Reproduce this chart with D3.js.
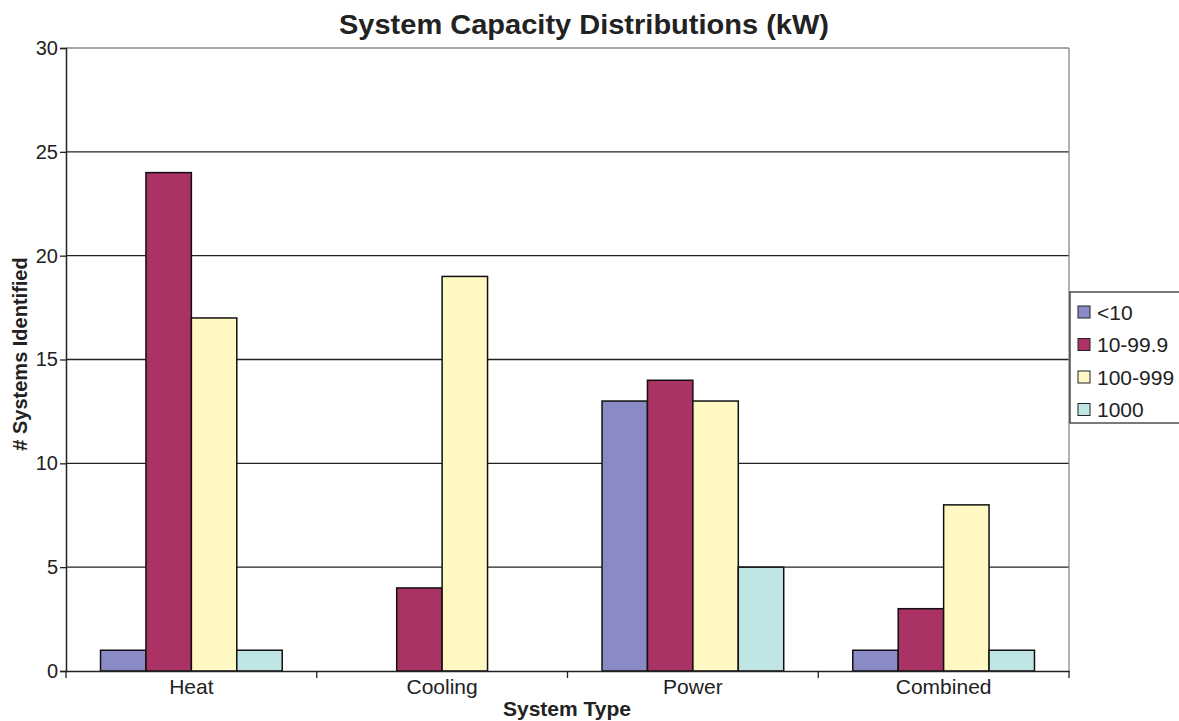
<!DOCTYPE html>
<html>
<head>
<meta charset="utf-8">
<script src="https://cdn.jsdelivr.net/npm/d3@7"></script>
<style>
  body { margin: 0; background: #fff; }
  text { font-family: "Liberation Sans", Arial, sans-serif; fill: #222; }
</style>
</head>
<body>
<div id="viz"></div>
<script>
const categories = ["Heat", "Cooling", "Power", "Combined"];
const series = ["<10", "10-99.9", "100-999", "1000"];
const values = [
    [1, 24, 17, 1],   // Heat
    [0, 4, 19, 0],    // Cooling
    [13, 14, 13, 5],  // Power
    [1, 3, 8, 1]      // Combined
];
const colors = ["#8a8bc5", "#ab3264", "#fff8c2", "#bfe6e4"];
const yTicks = [0, 5, 10, 15, 20, 25, 30];

const width = 1179;
const height = 721;
const margin = { top: 48, right: 110, bottom: 50, left: 66 };

const svg = d3.select('#viz').append('svg')
    .attr('width', width)
    .attr('height', height);

const x0 = d3.scaleBand()
    .domain(categories)
    .range([margin.left, 1069])
    .paddingInner(0)
    .paddingOuter(0);

const x1 = d3.scaleBand()
    .domain(series)
    .range([0, x0.bandwidth()])
    .paddingInner(0)
    .paddingOuter(0.76);

const y = d3.scaleLinear()
    .domain([0, 30])
    .range([671, 48]);

// gridlines
svg.append('g')
    .selectAll('line')
    .data(yTicks.filter(d => d > 0))
    .enter()
    .append('line')
    .attr('x1', margin.left)
    .attr('x2', 1069)
    .attr('y1', d => y(d))
    .attr('y2', d => y(d))
    .attr('stroke', d => d === 30 ? '#888' : '#222')
    .attr('stroke-width', 1.3);

// right border
svg.append('line')
    .attr('x1', 1069).attr('x2', 1069)
    .attr('y1', y(30)).attr('y2', y(0))
    .attr('stroke', '#888')
    .attr('stroke-width', 1.3);

// bars
const groups = svg.append('g')
    .selectAll('g')
    .data(values)
    .enter()
    .append('g')
    .attr('transform', (d, i) => `translate(${x0(categories[i])},0)`);

groups.selectAll('rect')
    .data(d => d.map((v, j) => ({ key: series[j], value: v, color: colors[j] })))
    .enter()
    .filter(d => d.value > 0)
    .append('rect')
    .attr('x', d => x1(d.key))
    .attr('width', x1.bandwidth())
    .attr('y', d => y(d.value))
    .attr('height', d => y(0) - y(d.value))
    .attr('fill', d => d.color)
    .attr('stroke', '#111')
    .attr('stroke-width', 1.5);

// y axis
const yAxis = svg.append('g')
    .attr('transform', `translate(${margin.left},0)`)
    .call(d3.axisLeft(y).tickValues(yTicks).tickSize(6).tickPadding(2));
yAxis.select('.domain').attr('stroke', '#222').attr('stroke-width', 1.5);
yAxis.selectAll('.tick line').attr('stroke', '#222').attr('stroke-width', 1.3);
yAxis.selectAll('text').style('font-size', '20px').attr('fill', '#2a2a2a');

// x axis
const xAxis = svg.append('g')
    .attr('transform', `translate(0,${y(0)})`)
    .call(d3.axisBottom(x0).tickSize(0).tickPadding(8));
xAxis.select('.domain').attr('stroke', '#222').attr('stroke-width', 1.5);
xAxis.selectAll('text').style('font-size', '21px').attr('fill', '#2a2a2a');

// category separator ticks
svg.append('g')
    .selectAll('line')
    .data(categories.map(c => x0(c)).concat([x0.range()[1]]))
    .enter()
    .append('line')
    .attr('x1', d => d).attr('x2', d => d)
    .attr('y1', y(0)).attr('y2', y(0) + 7)
    .attr('stroke', '#222')
    .attr('stroke-width', 1.3);

// title
svg.append('text')
    .attr('x', 584)
    .attr('y', 34)
    .attr('text-anchor', 'middle')
    .attr('textLength', 490)
    .attr('lengthAdjust', 'spacingAndGlyphs')
    .style('font-size', '28px')
    .style('font-weight', 'bold')
    .text('System Capacity Distributions (kW)');

// axis titles
svg.append('text')
    .attr('x', 567)
    .attr('y', 716)
    .attr('text-anchor', 'middle')
    .style('font-size', '21px')
    .style('font-weight', 'bold')
    .text('System Type');

svg.append('text')
    .attr('transform', 'translate(27,354) rotate(-90)')
    .attr('text-anchor', 'middle')
    .style('font-size', '20px')
    .style('font-weight', 'bold')
    .text('# Systems Identified');

// legend
const legend = svg.append('g');
legend.append('rect')
    .attr('x', 1070)
    .attr('y', 292)
    .attr('width', 120)
    .attr('height', 131)
    .attr('fill', '#fff')
    .attr('stroke', '#333')
    .attr('stroke-width', 1.3);

const items = legend.selectAll('g.item')
    .data(series)
    .enter()
    .append('g')
    .attr('class', 'item')
    .attr('transform', (d, i) => `translate(1078,${312 + i * 32.5})`);

items.append('rect')
    .attr('x', 0)
    .attr('y', -6)
    .attr('width', 12)
    .attr('height', 12)
    .attr('fill', (d, i) => colors[i])
    .attr('stroke', '#222')
    .attr('stroke-width', 1);

items.append('text')
    .attr('x', 19)
    .attr('y', 7.5)
    .style('font-size', '21px')
    .text(d => d);
</script>
</body>
</html>
